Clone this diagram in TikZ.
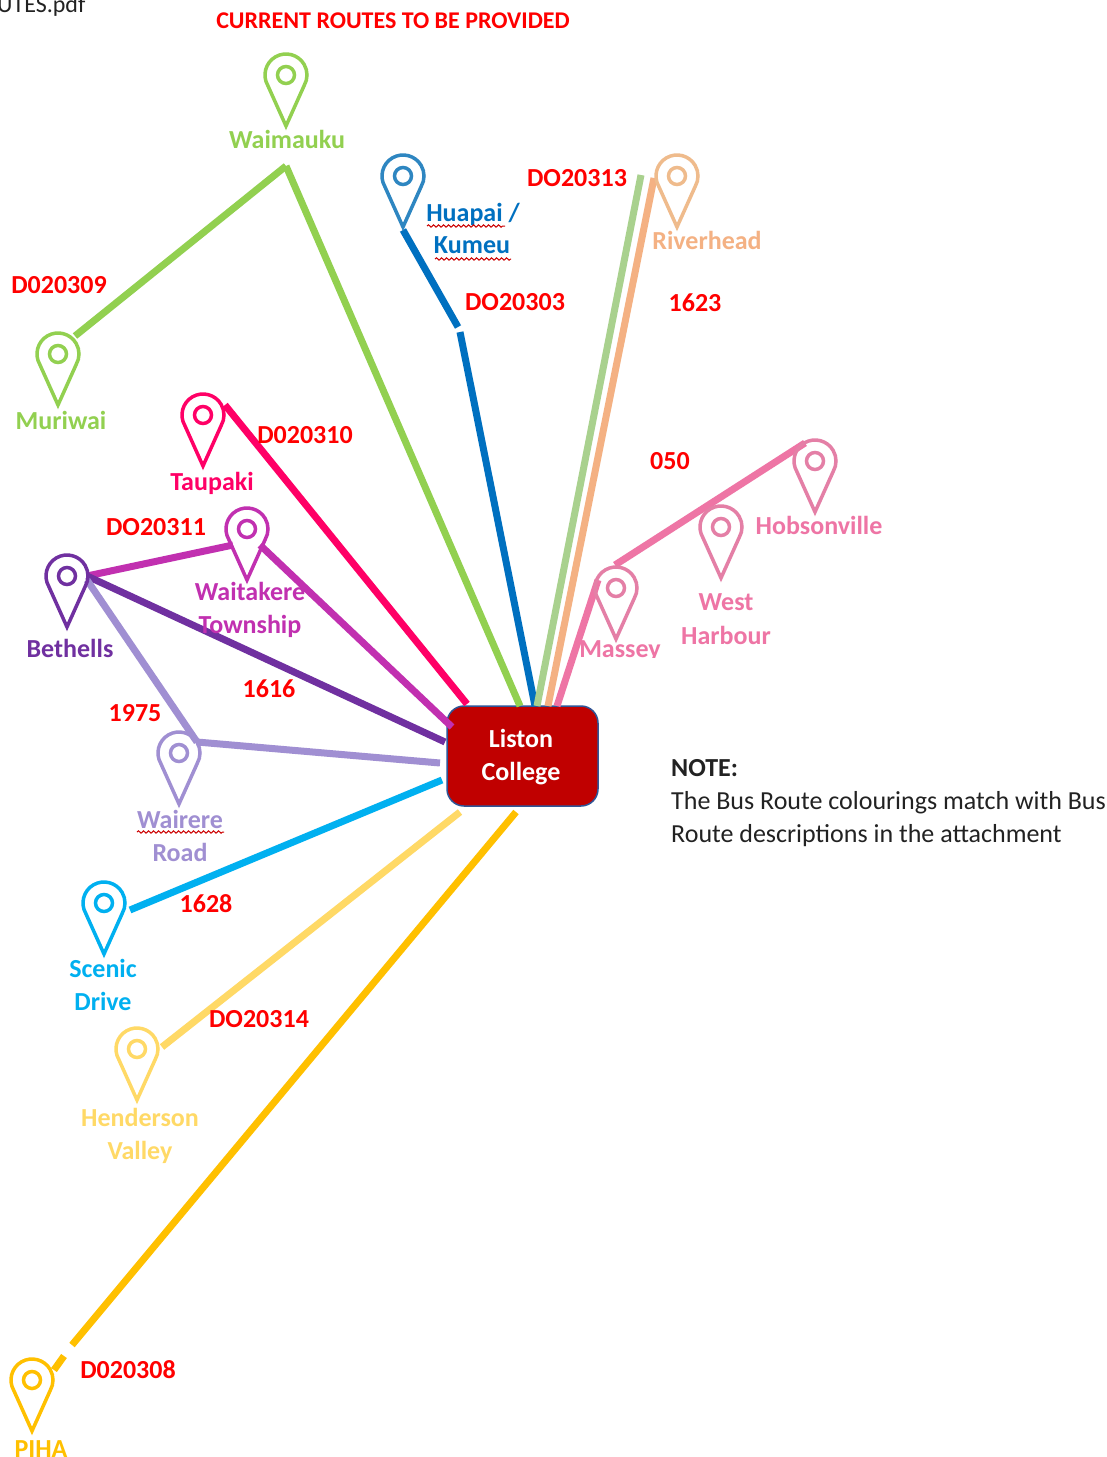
\documentclass[tikz,border=0pt]{standalone}
\usepackage{fontspec}
\setmainfont{Carlito}
\usetikzlibrary{decorations.pathmorphing}
\definecolor{cgreen}{HTML}{92D050}
\definecolor{cblue}{HTML}{0070C0}
\definecolor{cpblue}{HTML}{2E86C1}
\definecolor{cpale}{HTML}{A9D18E}
\definecolor{corange}{HTML}{F4B183}
\definecolor{cporange}{HTML}{EFBB8C}
\definecolor{cpink}{HTML}{EE75A5}
\definecolor{cppink}{HTML}{E47FA6}
\definecolor{cmag}{HTML}{FF0066}
\definecolor{cpur}{HTML}{C130B0}
\definecolor{cdark}{HTML}{7030A0}
\definecolor{clav}{HTML}{A08FD2}
\definecolor{ccyan}{HTML}{00B0F0}
\definecolor{cyel}{HTML}{FFD966}
\definecolor{cgold}{HTML}{FFC000}
\definecolor{cbox}{HTML}{C00000}
\definecolor{cedge}{HTML}{2F5597}
\definecolor{ctext}{HTML}{222222}
\tikzset{
  x=1pt,y=-1pt,
  route/.style={line width=7pt,draw=#1},
  lab/.style={font=\fontsize{26}{26}\selectfont\bfseries,text=#1,inner sep=0pt,align=center},
  code/.style={font=\fontsize{26}{26}\selectfont\bfseries,text=red,inner sep=0pt},
  note/.style={font=\fontsize{26}{26}\selectfont,text=ctext,inner sep=0pt,anchor=base west},
  squig/.style={draw=red!80!black,line width=1pt,decorate,decoration={snake,amplitude=1.2pt,segment length=5pt}},
  pin/.pic={
    \draw[line width=3.5pt,line join=miter,draw=#1]
      (0,51) -- (150:21) arc[start angle=150,end angle=390,radius=21] -- cycle;
    \draw[line width=3.5pt,draw=#1] (0,0) circle[radius=8.5];
  }
}
\begin{document}
\begin{tikzpicture}
\useasboundingbox (0,0) rectangle (1107,1457);
\clip (0,0) rectangle (1107,1457);
\fill[white] (0,0) rectangle (1107,1457);

% hub
\node[draw=cedge,fill=cbox,line width=1.5pt,rounded corners=17pt,minimum width=151pt,minimum height=100pt,inner sep=0pt,outer sep=0pt] (hub) at (522.5,756) {};
\node[lab=white,font=\fontsize{26}{33}\selectfont\bfseries] (hubt) at (521,757) {Liston\\College};

% route anchors
\coordinate (wk) at (286,166);
\coordinate (mu) at (75,336);
\coordinate (wkh) at (520,706);
\coordinate (hu) at (403,230);
\coordinate (hub1) at (458,327);
\coordinate (hub2) at (460,332);
\coordinate (huh) at (535,706);
\coordinate (pa) at (641,175);
\coordinate (pah) at (537,706);
\coordinate (ri) at (654,178);
\coordinate (rih) at (548,706);
\coordinate (ma) at (598,580);
\coordinate (mah) at (557,706);
\coordinate (ma2) at (615,565);
\coordinate (hob) at (805,443);
\coordinate (ta) at (225,405);
\coordinate (tah) at (467,704);
\coordinate (be) at (87,576);
\coordinate (wt) at (233,545);
\coordinate (wt2) at (260,545);
\coordinate (wth) at (452,727);
\coordinate (beh) at (445,742);
\coordinate (be2) at (87,580);
\coordinate (wr) at (197,742);
\coordinate (wrh) at (440,763);
\coordinate (sc) at (130,910);
\coordinate (sch) at (442,780);
\coordinate (he) at (162,1047);
\coordinate (heh) at (460,812);
\coordinate (pi) at (72,1345);
\coordinate (pih) at (516,812);
\coordinate (pi1) at (54,1370);
\coordinate (pi2) at (64,1356);

\draw[route=cgreen] (mu) -- (wk);
\draw[route=cgreen] (wk) -- (wkh);
\draw[route=cblue] (hu) -- (hub1);
\draw[route=cblue] (hub2) -- (huh);
\draw[route=cpale] (pa) -- (pah);
\draw[route=corange] (ri) -- (rih);
\draw[route=cpink] (ma) -- (mah);
\draw[route=cpink] (ma2) -- (hob);
\draw[route=cmag] (ta) -- (tah);
\draw[route=cpur] (be) -- (wt);
\draw[route=cpur] (wt2) -- (wth);
\draw[route=cdark] (be) -- (beh);
\draw[route=clav] (be2) -- (wr);
\draw[route=clav] (wr) -- (wrh);
\draw[route=ccyan] (sc) -- (sch);
\draw[route=cyel] (he) -- (heh);
\draw[route=cgold] (pi) -- (pih);
\draw[route=cgold] (pi1) -- (pi2);

% pins
\pic at (286,75) {pin=cgreen};
\pic at (403,176) {pin=cpblue};
\pic at (677,176) {pin=cporange};
\pic at (58,354) {pin=cgreen};
\pic at (203,415) {pin=cmag};
\pic at (247,529) {pin=cpur};
\pic at (67,576) {pin=cdark};
\pic at (179,753) {pin=clav};
\pic at (104,903) {pin=ccyan};
\pic at (137,1049) {pin=cyel};
\pic at (32,1380) {pin=cgold};
\pic at (616,588) {pin=cppink};
\pic at (721,527) {pin=cppink};
\pic at (815,461) {pin=cppink};

% place labels
\node[lab=cgreen] (l1) at (287,139) {Waimauku};
\node[lab=cblue] (l2a) at (473,214) {Huapai /};
\node[lab=cblue] (l2b) at (472,245) {Kumeu};
\node[lab=corange] (l3) at (707,240) {Riverhead};
\node[lab=cgreen] (l4) at (61,420) {Muriwai};
\node[lab=cmag] (l5) at (212,483) {Taupaki};
\node[lab=cpur] (l6a) at (250,591) {Waitakere};
\node[lab=cpur] (l6b) at (250,626) {Township};
\node[lab=cdark] (l7) at (70,648) {Bethells};
\node[lab=clav] (l8a) at (180,819) {Wairere};
\node[lab=clav] (l8b) at (180,852) {Road};
\node[lab=ccyan] (l9a) at (103,968) {Scenic};
\node[lab=ccyan] (l9b) at (103,1001) {Drive};
\node[lab=cyel] (l10a) at (140,1117) {Henderson};
\node[lab=cyel] (l10b) at (140,1152) {Valley};
\node[lab=cgold,anchor=base] (l11) at (41,1457) {PIHA};
\node[lab=cpink] (l12) at (620,651) {Massey};
\fill[white] (579,658) rectangle (670,672);
\node[lab=cpink] (l13a) at (726,602) {West};
\node[lab=cpink] (l13b) at (726,635) {Harbour};
\node[lab=cpink] (l14) at (819,525) {Hobsonville};

% squiggles
\draw[squig] (427,226) -- (505,226);
\draw[squig] (435,259) -- (511,259);
\draw[squig] (137,832) -- (224,832);

% route codes
\node[code,font=\fontsize{24}{24}\selectfont\bfseries] (c0) at (393,21) {CURRENT ROUTES TO BE PROVIDED};
\node[code] (c1) at (59,285) {D020309};
\node[code] (c2) at (515,302) {DO20303};
\node[code] (c3) at (577,178) {DO20313};
\node[code] (c4) at (695,303) {1623};
\node[code] (c5) at (305,435) {D020310};
\node[code] (c6) at (670,461) {050};
\node[code] (c7) at (156,527) {DO20311};
\node[code] (c8) at (269,689) {1616};
\node[code] (c9) at (135,713) {1975};
\node[code] (c10) at (206,904) {1628};
\node[code] (c11) at (259,1019) {DO20314};
\node[code] (c12) at (128,1370) {D020308};

% notes
\node[note,font=\fontsize{24}{24}\selectfont,anchor=base west] (f) at (-3,12) {UTES.pdf};
\node[note,font=\fontsize{26}{26}\selectfont\bfseries] (n0) at (671,776) {NOTE:};
\node[note] (n1) at (671,809) {The Bus Route colourings match with Bus};
\node[note] (n2) at (671,842) {Route descriptions in the attachment};
\end{tikzpicture}
\end{document}
